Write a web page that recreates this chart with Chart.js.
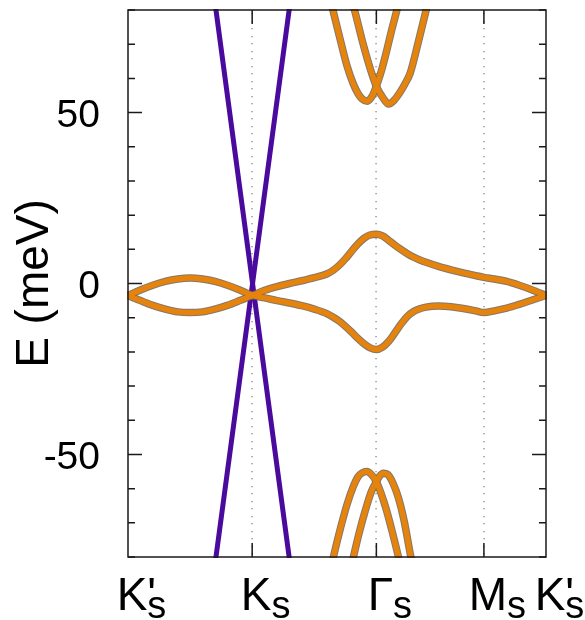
<!DOCTYPE html>
<html>
<head>
<meta charset="utf-8">
<script src="https://cdn.jsdelivr.net/npm/chart.js@4.4.1/dist/chart.umd.min.js"></script>
<style>
  html, body { margin: 0; padding: 0; background: #fff; }
  canvas { display: block; }
</style>
</head>
<body>
<canvas id="bands" width="585" height="620"></canvas>
<script>
// High-symmetry points along the k-path (in units of |ΓK|)
const pathPoints = [0, 1, 2, 2.866, 3.366];
const pathNames = ["K'", "K", "Γ", "M", "K'"];
const pathSub = "s";

// Energy axis (meV)
const energyRange = [-80, 80];
const energyTicks = [-50, 0, 50];
const energyMinorStep = 10;

// Flat bands, K' -> K
const kFlatA = [0, 0.1, 0.2, 0.3, 0.4, 0.5, 0.6, 0.7, 0.8, 0.9, 1.0];
const eUpperA = [-3.5, -1.9, -0.5, 0.6, 1.3, 1.6, 1.3, 0.6, -0.5, -1.9, -3.5];
const eLowerA = [-3.5, -5.0, -6.4, -7.5, -8.3, -8.5, -8.3, -7.5, -6.4, -5.0, -3.5];

// Flat bands, K -> Γ -> M -> K'
const kFlatB = [1.0, 1.1, 1.2, 1.3, 1.4, 1.5, 1.6, 1.65, 1.7, 1.75, 1.8, 1.85, 1.9, 1.95, 2.0,
                2.05, 2.1, 2.15, 2.2, 2.25, 2.3, 2.35, 2.4, 2.5, 2.6, 2.7, 2.8, 2.866,
                2.95, 3.05, 3.15, 3.25, 3.366];
const eUpperB = [-3.5, -2.0, -0.9, 0.0, 0.8, 1.7, 2.8, 3.8, 5.3, 7.2, 9.4, 11.5, 13.2, 14.2, 14.4,
                 13.9, 12.6, 11.2, 9.9, 8.7, 7.7, 6.9, 6.2, 5.0, 4.0, 3.1, 2.3, 1.8,
                 1.3, 0.6, -0.5, -1.8, -3.5];
const eLowerB = [-3.5, -4.2, -5.0, -5.7, -6.5, -7.5, -8.8, -9.8, -11.0, -12.5, -14.2, -16.0, -17.6, -18.8, -19.3,
                 -18.6, -16.9, -14.4, -11.8, -9.6, -8.2, -7.4, -6.9, -6.6, -6.8, -7.3, -8.0, -8.5,
                 -8.0, -7.2, -6.1, -4.9, -3.5];

// Remote conduction bands near Γ
const kCond1 = [1.62, 1.650, 1.708, 1.765, 1.813, 1.853, 1.885, 1.926, 1.966, 2.000, 2.039, 2.079, 2.119, 2.165, 2.19];
const eCond1 = [84.5, 80, 71.5, 63.5, 58.5, 55.5, 54.0, 53.3, 54.8, 57.7, 62.0, 67.5, 73.5, 80, 84];
const kCond2 = [1.80, 1.824, 1.894, 1.958, 2.000, 2.055, 2.098, 2.143, 2.192, 2.232, 2.272, 2.337, 2.401, 2.43];
const eCond2 = [83, 80, 70, 62, 57.7, 54.2, 52.5, 53.6, 56, 58.5, 61.5, 70.5, 80, 84.5];

// Remote valence bands near Γ
const kVal1 = [1.63, 1.654, 1.708, 1.765, 1.813, 1.853, 1.885, 1.923, 1.958, 2.000, 2.039, 2.079, 2.127, 2.178, 2.20];
const eVal1 = [-84, -80, -72, -64.5, -59.5, -56.5, -55.4, -55.0, -55.8, -58.0, -61.5, -66.0, -72.5, -80, -83.5];
const kVal2 = [1.79, 1.815, 1.861, 1.910, 1.958, 2.000, 2.023, 2.057, 2.095, 2.135, 2.176, 2.224, 2.278, 2.30];
const eVal2 = [-84, -80, -73, -66.5, -61, -58.0, -56.5, -55.5, -56.0, -58.5, -62.5, -69.5, -80, -83.5];

// Dirac cone at K
const kDiracA = [0.690, 1.316];
const eDiracA = [85, -85];
const kDiracB = [0.690, 1.316];
const eDiracB = [-85, 85];

const FONT = "'Liberation Sans', Arial, Helvetica, sans-serif";
const ORANGE = '#e5830c';
const ORANGE_EDGE = 'rgba(110,95,80,0.85)';
const PURPLE = '#4b0a9e';

function pts(k, e) { return k.map((v, i) => ({ x: v, y: e[i] })); }

const orangeBands = [
  [kFlatA, eUpperA], [kFlatA, eLowerA],
  [kFlatB, eUpperB], [kFlatB, eLowerB],
  [kCond1, eCond1], [kCond2, eCond2],
  [kVal1, eVal1], [kVal2, eVal2]
];
const diracBands = [[kDiracA, eDiracA], [kDiracB, eDiracB]];

const common = {
  pointRadius: 0,
  fill: false,
  cubicInterpolationMode: 'monotone',
  borderJoinStyle: 'round',
  borderCapStyle: 'round',
  clip: 1
};

const datasets = [];
orangeBands.forEach(([k, e]) => datasets.push({ ...common, data: pts(k, e), borderColor: ORANGE, borderWidth: 5.5, order: 0 }));
orangeBands.forEach(([k, e]) => datasets.push({ ...common, data: pts(k, e), borderColor: ORANGE_EDGE, borderWidth: 7.5, order: 1 }));
diracBands.forEach(([k, e]) => datasets.push({ ...common, data: pts(k, e), borderColor: PURPLE, borderWidth: 5, order: 2 }));

// Frame, inward ticks, dotted guides and path labels with subscripts
const bandFrame = {
  id: 'bandFrame',
  beforeDatasetsDraw(chart) {
    const { ctx, chartArea: a } = chart;
    const xs = chart.scales.x;
    ctx.save();
    ctx.fillStyle = '#888';
    pathPoints.slice(1, -1).forEach(p => {
      const px = Math.round(xs.getPixelForValue(p));
      for (let y = a.top + 3; y < a.bottom; y += 7.5) ctx.fillRect(px - 0.6, Math.round(y), 1.3, 1.3);
    });
    ctx.restore();
  },
  afterDatasetsDraw(chart) {
    const { ctx, chartArea: a } = chart;
    const xs = chart.scales.x, ys = chart.scales.y;
    ctx.save();
    ctx.strokeStyle = '#1a1a1a';
    ctx.lineWidth = 1.5;
    ctx.beginPath();
    for (let v = energyRange[0]; v <= energyRange[1]; v += energyMinorStep) {
      const py = ys.getPixelForValue(v);
      const len = energyTicks.includes(v) ? 14 : 7;
      ctx.moveTo(a.left, py); ctx.lineTo(a.left + len, py);
      ctx.moveTo(a.right, py); ctx.lineTo(a.right - len, py);
    }
    pathPoints.slice(1, -1).forEach(p => {
      const px = xs.getPixelForValue(p);
      ctx.moveTo(px, a.top); ctx.lineTo(px, a.top + 14);
      ctx.moveTo(px, a.bottom); ctx.lineTo(px, a.bottom - 14);
    });
    ctx.stroke();
    ctx.strokeRect(a.left, a.top, a.right - a.left, a.bottom - a.top);

    ctx.fillStyle = '#000';
    ctx.textBaseline = 'alphabetic';
    pathPoints.forEach((p, i) => {
      const name = pathNames[i];
      const cx = xs.getPixelForValue(p) + 4;
      ctx.font = `46px ${FONT}`;
      const base = name[0];
      const w = ctx.measureText(base).width;
      ctx.textAlign = 'center';
      ctx.fillText(base, cx, 610);
      const sx = cx + w / 2;
      ctx.textAlign = 'left';
      if (name.length > 1) ctx.fillText(name.slice(1), sx, 610);
      ctx.font = `38px ${FONT}`;
      ctx.fillText(pathSub, sx, 618);
    });
    ctx.restore();
  }
};

new Chart(document.getElementById('bands'), {
  type: 'line',
  data: { datasets },
  plugins: [bandFrame],
  options: {
    responsive: false,
    devicePixelRatio: 1,
    animation: false,
    layout: { padding: { left: 0, right: 39, top: 10, bottom: 0 } },
    plugins: { legend: { display: false }, tooltip: { enabled: false } },
    scales: {
      x: {
        type: 'linear',
        min: pathPoints[0],
        max: pathPoints[pathPoints.length - 1],
        afterBuildTicks: s => { s.ticks = pathPoints.map(v => ({ value: v })); },
        afterFit: s => { s.height = 63; s.paddingLeft = 0; s.paddingRight = 0; },
        ticks: { display: false },
        grid: { display: false, drawTicks: false },
        border: { display: false }
      },
      y: {
        type: 'linear',
        min: energyRange[0],
        max: energyRange[1],
        afterBuildTicks: s => { s.ticks = energyTicks.map(v => ({ value: v })); },
        afterFit: s => { s.width = 128; s.paddingTop = 0; s.paddingBottom = 0; },
        ticks: { color: '#000', font: { family: FONT, size: 39 }, padding: 28, labelOffset: 4, autoSkip: false },
        grid: { display: false, drawTicks: false },
        border: { display: false },
        title: {
          display: true,
          text: 'E (meV)',
          color: '#000',
          font: { family: FONT, size: 46 },
          padding: { top: 8, bottom: 0 }
        }
      }
    }
  }
});
</script>
</body>
</html>
